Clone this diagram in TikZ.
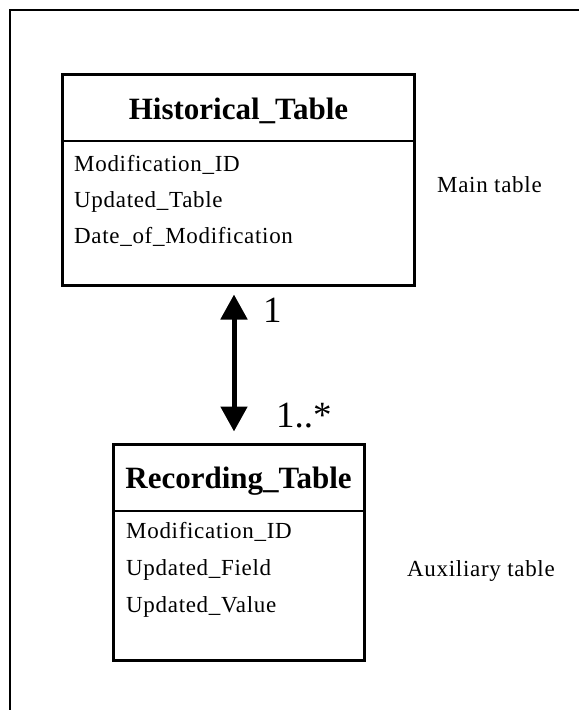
\documentclass[tikz,border=0pt]{standalone}
\usepackage{fontspec}
\setmainfont{Liberation Serif}
\newfontfamily\fieldfamily[LetterSpace=3]{Liberation Serif}
\usetikzlibrary{arrows.meta}
\newcommand{\fieldfont}{\fontsize{23}{25}\selectfont\fieldfamily}
\tikzset{
  tablebox/.style={draw, line width=3pt, inner sep=0pt},
  tabletitle/.style={anchor=base, inner sep=0pt, font=\fontsize{31}{33}\selectfont\bfseries},
  tablefield/.style={anchor=base west, inner sep=0pt, font=\fieldfont},
  mult/.style={anchor=base west, inner sep=0pt, font=\fontsize{37}{40}\selectfont},
  assoc/.style={line width=5pt, {Triangle[width=26pt,length=25pt]}-{Triangle[width=26pt,length=25pt]}}
}

\begin{document}
\begin{tikzpicture}[x=1pt,y=-1pt]
		\useasboundingbox (0,0) rectangle (579,710);
		\draw[line width=1.6pt] (579,10) -- (10,10) -- (10,710);
		%
		\node[tablebox, minimum width=352pt, minimum height=211pt] (hist) at (238.5,180) {};
		\draw[line width=1.5pt] (hist.west |- 0,141) -- (hist.east |- 0,141);
		\node[tabletitle] (histtitle) at (238.5,119) {Historical\_Table};
		\node[tablefield] (histid) at (74,171) {Modification\_ID};
		\node[tablefield] (histtable) at (74,207) {Updated\_Table};
		\node[tablefield] (histdate) at (74,243) {Date\_of\_Modification};
		\node[tablefield] (mainnote) at (437,192) {Main table};
		%
		\node[tablebox, minimum width=251pt, minimum height=216pt] (rec) at (239,552.5) {};
		\draw[line width=1.5pt] (rec.west |- 0,511) -- (rec.east |- 0,511);
		\node[tabletitle] (rectitle) at (238.5,488) {Recording\_Table};
		\node[tablefield] (recid) at (126,538) {Modification\_ID};
		\node[tablefield] (recfield) at (126,575) {Updated\_Field};
		\node[tablefield] (recvalue) at (126,612) {Updated\_Value};
		\node[tablefield] (auxnote) at (407,576) {Auxiliary table};
		%
		\draw[assoc] ([xshift=-4.5pt,yshift=-7.5pt]hist.south) -- ([xshift=-5pt,yshift=11.5pt]rec.north);
		\node[mult] (multone) at (263,322) {1};
		\node[mult] (multmany) at (276,427) {1..*};
	\end{tikzpicture}
\end{document}
